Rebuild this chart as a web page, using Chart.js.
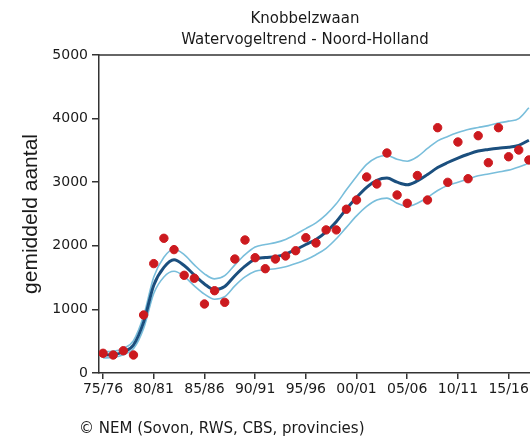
<!DOCTYPE html>
<html>
<head>
<meta charset="utf-8">
<script src="https://cdn.jsdelivr.net/npm/chart.js@4/dist/chart.umd.min.js"></script>
<style>
  html, body { margin: 0; padding: 0; background: #fff; overflow: hidden; }
  #wrap { position: relative; width: 530px; height: 438px; overflow: hidden; }
  #myChart { position: absolute; left: 0; top: 0; }
  #bron { position: absolute; left: 79px; top: 419px; font: 15px "DejaVu Sans", sans-serif; color: #1a1a1a; white-space: nowrap; }
</style>
</head>
<body>
<div id="wrap">
  <canvas id="myChart" width="626" height="438"></canvas>
  <div id="bron">© NEM (Sovon, RWS, CBS, provincies)</div>
</div>
<script>
// seizoenen 75/76 ... 17/18 (begin jaar)
var years = [1975,1976,1977,1978,1979,1980,1981,1982,1983,1984,1985,1986,1987,1988,1989,1990,1991,1992,1993,1994,
  1995,1996,1997,1998,1999,2000,2001,2002,2003,2004,2005,2006,2007,2008,2009,2010,2011,2012,2013,2014,2015,2016,2017];

// getelde aantallen (rode punten)
var counts = [310,283,350,283,912,1720,2118,1940,1536,1490,1085,1294,1111,1792,2091,1813,1640,1792,1840,1923,
  2128,2045,2250,2250,2575,2720,3082,2972,3459,2799,2668,3105,2720,3857,2998,3632,3055,3731,3307,3857,3400,3506,3350];

// trend en betrouwbaarheidsband
var trend = [283,290,330,440,800,1380,1660,1780,1690,1540,1400,1310,1360,1530,1680,1790,1815,1830,1870,1940,
  2020,2100,2220,2380,2580,2760,2920,3030,3065,3000,2960,3020,3120,3230,3310,3380,3440,3490,3515,3535,3550,3580,3660];
var upper = [335,340,385,510,900,1510,1820,1950,1860,1700,1560,1480,1530,1700,1860,1980,2020,2050,2100,2180,
  2270,2360,2490,2660,2880,3090,3280,3390,3420,3360,3330,3400,3530,3650,3720,3780,3830,3860,3890,3930,3960,4000,4170];
var lower = [235,245,285,380,700,1250,1510,1600,1520,1370,1240,1160,1200,1370,1510,1600,1625,1640,1670,1720,
  1780,1860,1960,2110,2290,2470,2620,2720,2750,2670,2620,2670,2760,2870,2950,3000,3050,3100,3130,3160,3190,3240,3300];

var tickYears = [1975,1980,1985,1990,1995,2000,2005,2010,2015,2020];
var tickLabels = ['75/76','80/81','85/86','90/91','95/96','00/01','05/06','10/11','15/16','20/21'];

function pts(arr) {
  return years.map(function(y, i) { return {x: y, y: arr[i]}; });
}

var topLine = {
  id: 'topLine',
  afterDraw: function(chart) {
    var c = chart.ctx, a = chart.chartArea;
    c.save();
    c.strokeStyle = '#333';
    c.lineWidth = 1.5;
    c.beginPath();
    c.moveTo(a.left, a.top);
    c.lineTo(a.right, a.top);
    c.stroke();
    c.restore();
  }
};

var ctx = document.getElementById('myChart').getContext('2d');
var myChart = new Chart(ctx, {
  type: 'line',
  data: {
    datasets: [{
      label: 'telling',
      data: pts(counts),
      showLine: false,
      pointRadius: 4.2,
      pointBackgroundColor: '#cc1a1f',
      pointBorderColor: '#cc1a1f',
      pointBorderWidth: 1
    }, {
      label: 'trend',
      data: pts(trend),
      borderColor: '#1b4f7e',
      borderWidth: 3,
      pointRadius: 0,
      cubicInterpolationMode: 'monotone',
      fill: false
    }, {
      label: 'boven',
      data: pts(upper),
      borderColor: '#79bedb',
      borderWidth: 1.6,
      pointRadius: 0,
      cubicInterpolationMode: 'monotone',
      fill: false
    }, {
      label: 'onder',
      data: pts(lower),
      borderColor: '#79bedb',
      borderWidth: 1.6,
      pointRadius: 0,
      cubicInterpolationMode: 'monotone',
      fill: false
    }]
  },
  options: {
    responsive: false,
    animation: false,
    devicePixelRatio: 1,
    layout: { padding: { left: 0, right: 16, top: 0, bottom: 35 } },
    plugins: {
      legend: { display: false },
      tooltip: { enabled: false },
      title: {
        display: true,
        text: ['Knobbelzwaan', 'Watervogeltrend - Noord-Holland'],
        color: '#1a1a1a',
        font: { family: 'DejaVu Sans', size: 15, weight: 'normal', lineHeight: 1.4 },
        padding: { top: 9, bottom: 4 }
      }
    },
    scales: {
      x: {
        type: 'linear',
        min: 1974.6,
        max: 2025,
        afterBuildTicks: function(s) { s.ticks = tickYears.map(function(v) { return {value: v}; }); },
        afterFit: function(s) { s.height = 30; },
        ticks: {
          color: '#1a1a1a',
          font: { family: 'DejaVu Sans', size: 14 },
          padding: 2,
          maxRotation: 0,
          autoSkip: false,
          callback: function(v) { return tickLabels[tickYears.indexOf(v)]; }
        },
        grid: { drawOnChartArea: false, tickLength: 6, color: '#333', lineWidth: 1.5 },
        border: { color: '#333', width: 1.5 }
      },
      y: {
        min: 0,
        max: 5000,
        afterFit: function(s) { s.width = 99; },
        ticks: {
          stepSize: 1000,
          color: '#1a1a1a',
          font: { family: 'DejaVu Sans', size: 14 },
          padding: 4,
          callback: function(v) { return String(v); }
        },
        grid: { drawOnChartArea: false, tickLength: 7, color: '#333', lineWidth: 1.5 },
        border: { color: '#333', width: 1.5 },
        title: {
          display: true,
          text: 'gemiddeld aantal',
          color: '#1a1a1a',
          font: { family: 'Liberation Sans', size: 21 },
          padding: { top: 19, bottom: 0 }
        }
      }
    }
  },
  plugins: [topLine]
});
</script>
</body>
</html>
